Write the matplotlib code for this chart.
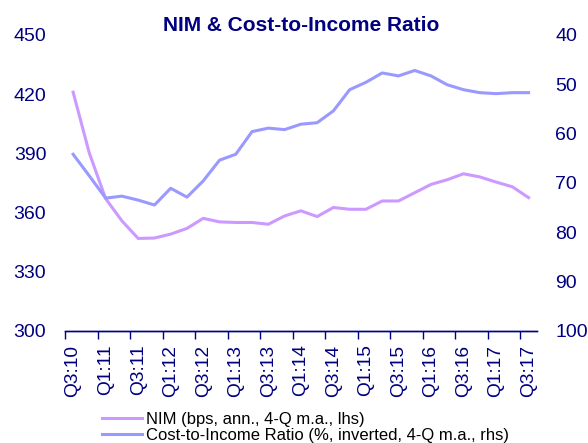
import matplotlib
matplotlib.use("Agg")
from matplotlib import pyplot as plt

# quarterly data, Q3:10 .. Q3:17
quarters = ["Q3:10", "Q4:10", "Q1:11", "Q2:11", "Q3:11", "Q4:11", "Q1:12", "Q2:12",
            "Q3:12", "Q4:12", "Q1:13", "Q2:13", "Q3:13", "Q4:13", "Q1:14", "Q2:14",
            "Q3:14", "Q4:14", "Q1:15", "Q2:15", "Q3:15", "Q4:15", "Q1:16", "Q2:16",
            "Q3:16", "Q4:16", "Q1:17", "Q2:17", "Q3:17"]
nim = [421, 390, 367, 355.7, 346.8, 347, 349, 351.9, 357, 355.2, 354.9, 354.9, 354,
       358.2, 360.8, 357.9, 362.5, 361.6, 361.6, 365.8, 365.8, 370, 374.2, 376.6,
       379.6, 378, 375.4, 373, 367.5]
cost_income = [64.2, 68.6, 73.1, 72.7, 73.5, 74.5, 71.1, 72.9, 69.6, 65.4, 64.2, 59.6,
               58.9, 59.2, 58.1, 57.8, 55.4, 51.1, 49.6, 47.7, 48.3, 47.2, 48.3, 50.1,
               51.1, 51.7, 51.9, 51.7, 51.7]
left_ticks = [300, 330, 360, 390, 420, 450]
right_ticks = [40, 50, 60, 70, 80, 90, 100]

NAVY = "#000080"
NIM_COLOR = "#CC99FF"
CIR_COLOR = "#9999FF"

plt.rcParams["font.family"] = ["Liberation Sans", "DejaVu Sans"]

fig = plt.figure(figsize=(5.88, 4.43), dpi=100)
ax = fig.add_axes([0.1105, 0.2535, 0.8023, 0.6675])
ax2 = ax.twinx()

x = list(range(len(quarters)))
l1, = ax.plot(x, nim, color=NIM_COLOR, lw=2.2,
              label="NIM (bps, ann., 4-Q m.a., lhs)")
l2, = ax2.plot(x, cost_income, color=CIR_COLOR, lw=2.2,
               label="Cost-to-Income Ratio (%, inverted, 4-Q m.a., rhs)")

ax.set_xlim(-0.5, len(quarters) - 0.5)
ax.set_ylim(300, 450)
ax2.set_ylim(100, 40)

# ticks on category boundaries, labels on every second category
ax.set_xticks([i - 0.5 for i in range(0, len(quarters), 2)])
ax.set_xticklabels([])
ax.set_xticks(x[::2], minor=True)
ax.set_xticklabels(quarters[::2], minor=True, rotation=90)
ax.tick_params(axis="x", which="major", direction="out", length=6,
               width=1, color=NAVY)
ax.tick_params(axis="x", which="minor", length=0, pad=10,
               labelsize=13.8, labelcolor=NAVY)

ax.set_yticks(left_ticks)
ax.tick_params(axis="y", length=0, pad=13.5, labelsize=14, labelcolor=NAVY)
ax2.set_yticks(right_ticks)
ax2.tick_params(axis="y", length=0, pad=13.5, labelsize=14, labelcolor=NAVY)

for a in (ax, ax2):
    for side in ("left", "right", "top"):
        a.spines[side].set_visible(False)
    a.spines["bottom"].set_color(NAVY)
    a.spines["bottom"].set_linewidth(1)

ax.set_title("NIM & Cost-to-Income Ratio", fontsize=15, fontweight="bold",
             color=NAVY, pad=3)

leg = fig.legend(handles=[l1, l2], loc="upper left",
                 bbox_to_anchor=(0.173, 0.0705), frameon=False, fontsize=12,
                 borderpad=0, borderaxespad=0, handlelength=2.4,
                 handletextpad=0.24, labelspacing=0.08)
for t in leg.get_texts():
    t.set_color("black")

fig.savefig("out.png", dpi=100)
